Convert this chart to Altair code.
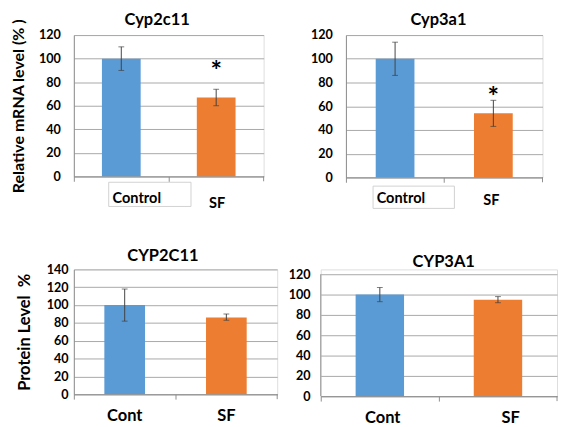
import altair as alt
import pandas as pd

# ---------------- data ----------------
mrna_cats = ["Control", "SF"]
prot_cats = ["Cont", "SF"]

cyp2c11_mrna = [100, 67]
cyp2c11_mrna_lo = [90, 60]
cyp2c11_mrna_hi = [110, 74]
cyp2c11_mrna_star = [None, 93]

cyp3a1_mrna = [100, 54]
cyp3a1_mrna_lo = [86, 43]
cyp3a1_mrna_hi = [114, 65]
cyp3a1_mrna_star = [None, 72]

cyp2c11_prot = [100, 86]
cyp2c11_prot_lo = [82, 83]
cyp2c11_prot_hi = [118, 90]

cyp3a1_prot = [100, 95]
cyp3a1_prot_lo = [93, 92]
cyp3a1_prot_hi = [107, 98]

titles = ["Cyp2c11", "Cyp3a1", "CYP2C11", "CYP3A1"]
colors = ["#5B9BD5", "#ED7D31"]
FONT = "Lato"
GRID = "#a6a6a6"
AXIS = "#8c8c8c"


def panel(cats, vals, lo, hi, star, title, W, H, ymax, yvals, ylabpad,
          ytitle, ytitle_size, ytitle_pad, bar_w, title_dx, title_y,
          lab_off, lab_pad, lab_size, box=None, axis_rule=False):
    df = pd.DataFrame({"cat": cats, "val": vals, "lo": lo, "hi": hi,
                       "color": colors})
    off_cond = {"condition": {"test": f"datum.value == '{cats[0]}'",
                              "value": lab_off[0]},
                "value": lab_off[1]}
    pad_cond = {"condition": {"test": f"datum.value == '{cats[0]}'",
                              "value": lab_pad[0]},
                "value": lab_pad[1]}
    xaxis = alt.Axis(title=None, labelAngle=0, bandPosition=0,
                     ticks=True, tickSize=5, tickColor=AXIS,
                     domainColor=AXIS, grid=False,
                     labelFont=FONT, labelFontWeight="bold",
                     labelFontSize=lab_size, labelColor="black",
                     labelOffset=off_cond, labelPadding=pad_cond,
                     zindex=1)
    xscale = alt.Scale(paddingInner=0, paddingOuter=0)
    yaxis = alt.Axis(values=yvals, ticks=False, domain=not axis_rule,
                     domainColor=AXIS, grid=True, gridColor=GRID,
                     labelFont=FONT, labelFontWeight="bold", labelFontSize=13,
                     labelColor="black", labelPadding=ylabpad,
                     labelOverlap=False,
                     title=ytitle if ytitle else None,
                     titleFont=FONT, titleFontWeight="bold",
                     titleFontSize=ytitle_size, titleColor="black",
                     titlePadding=ytitle_pad)
    yscale = alt.Scale(domain=[0, ymax], nice=False, zero=True)

    def X():
        return alt.X("cat:N", sort=cats, scale=xscale, axis=xaxis)

    def Y(field):
        return alt.Y(f"{field}:Q", scale=yscale, axis=yaxis)

    base = alt.Chart(df)
    bars = base.mark_bar(size=bar_w).encode(
        x=X(), y=Y("val"), color=alt.Color("color:N", scale=None))
    err = base.mark_rule(color="#404040", strokeWidth=1).encode(
        x=X(), y=Y("lo"), y2="hi:Q")
    cap_lo = base.mark_tick(color="#404040", size=6, thickness=1).encode(
        x=X(), y=Y("lo"))
    cap_hi = base.mark_tick(color="#404040", size=6, thickness=1).encode(
        x=X(), y=Y("hi"))
    one = pd.DataFrame({"t": [title]})
    right_tick = alt.Chart(one).mark_rule(color=AXIS).encode(
        x=alt.value(W), y=alt.value(H), y2=alt.value(H + 5))
    ttl = alt.Chart(one).mark_text(
        font=FONT, fontWeight="bold", fontSize=17, color="black",
        align="center", baseline="alphabetic").encode(
        text="t:N", x=alt.value(W / 2 + title_dx), y=alt.value(title_y))
    layers = []
    if box is not None:
        layers.append(alt.Chart(one).mark_rect(
            fill="white", stroke="#d0d0d0", strokeWidth=1).encode(
            x=alt.value(box[0]), x2=alt.value(box[1]),
            y=alt.value(box[2]), y2=alt.value(box[3])))
    layers += [bars, err, cap_lo, cap_hi, right_tick, ttl]
    if axis_rule:
        adf = pd.DataFrame({"a": [0], "b": [max(yvals)]})
        layers.append(alt.Chart(adf).mark_rule(color=AXIS).encode(
            x=alt.value(0), y=Y("a"), y2="b:Q"))
    if star is not None:
        sdf = pd.DataFrame({"cat": [c for c, s in zip(cats, star) if s is not None],
                            "s": [s for s in star if s is not None]})
        layers.append(alt.Chart(sdf).mark_text(
            text="*", font=FONT, fontWeight="bold", fontSize=28,
            baseline="middle", dy=6, color="black").encode(
            x=X(), y=Y("s")))
    return alt.layer(*layers).properties(width=W, height=H)


p1 = panel(mrna_cats, cyp2c11_mrna, cyp2c11_mrna_lo, cyp2c11_mrna_hi,
           cyp2c11_mrna_star, titles[0], 196, 146, 120,
           [0, 20, 40, 60, 80, 100, 120], 14,
           "Relative mRNA level (% )", 16.5, 12, 40, -12, -10,
           (16, 1), (10, 15), 15, box=(36, 121, 152, 177))
p2 = panel(mrna_cats, cyp3a1_mrna, cyp3a1_mrna_lo, cyp3a1_mrna_hi,
           cyp3a1_mrna_star, titles[1], 203, 147, 120,
           [0, 20, 40, 60, 80, 100, 120], 14,
           None, 15, 14, 40, -6, -10,
           (6, -2), (9, 11), 15, box=(28, 112, 156, 179))
p3 = panel(prot_cats, cyp2c11_prot, cyp2c11_prot_lo, cyp2c11_prot_hi,
           None, titles[2], 210, 129, 140,
           [0, 20, 40, 60, 80, 100, 120, 140], 6,
           "Protein Level\u00a0 %", 17, 13, 42, -13, -9,
           (0, 0), (9, 9), 17)
p4 = panel(prot_cats, cyp3a1_prot, cyp3a1_prot_lo, cyp3a1_prot_hi,
           None, titles[3], 244, 131, 124.76,
           [0, 20, 40, 60, 80, 100, 120], 11,
           None, 15, 14, 50, 5, -2,
           (3, 13), (9, 9), 17, axis_rule=True)

row1 = alt.hconcat(p1, p2, spacing=46)
row2 = alt.hconcat(p3, p4, spacing=9)
chart = alt.vconcat(row1, row2, spacing=36).properties(
    padding={"left": 2, "top": -4, "right": 0, "bottom": 0}
).configure_view(stroke=None).configure(background="white")

chart.save("out.html", embed_options={"renderer": "svg", "actions": False})
